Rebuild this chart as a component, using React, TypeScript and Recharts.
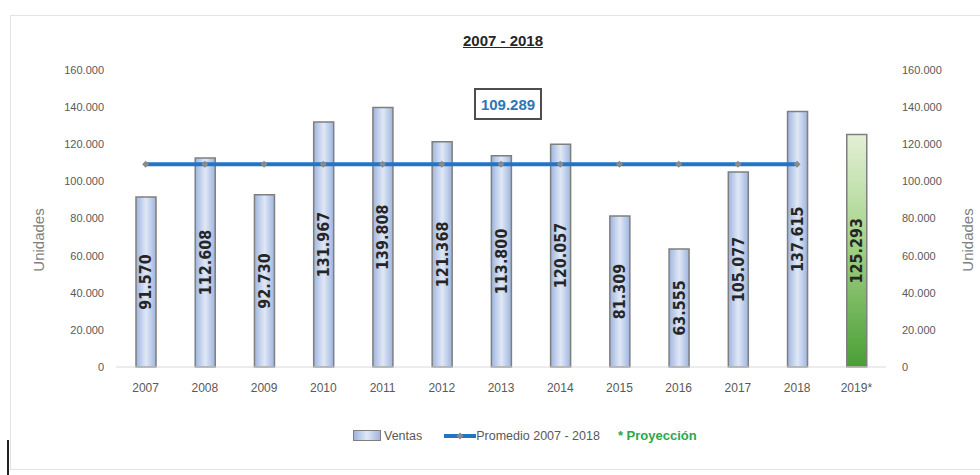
import React from "react";
import {
  ComposedChart,
  Bar,
  Line,
  XAxis,
  YAxis,
  Cell,
  LabelList,
} from "recharts";

const years = ["2007", "2008", "2009", "2010", "2011", "2012", "2013", "2014", "2015", "2016", "2017", "2018", "2019*"];
const ventas = [91570, 112608, 92730, 131967, 139808, 121368, 113800, 120057, 81309, 63555, 105077, 137615, 125293];
const promedio = [109289, 109289, 109289, 109289, 109289, 109289, 109289, 109289, 109289, 109289, 109289, 109289, null];
const yTicks = [0, 20000, 40000, 60000, 80000, 100000, 120000, 140000, 160000];

const data = years.map((y, i) => ({ year: y, ventas: ventas[i], avg: promedio[i] }));

// es-ES style: dot as thousands separator
const fmt = (v: number) => String(v).replace(/\B(?=(\d{3})+(?!\d))/g, ".");

const TICK = { fontFamily: "Liberation Sans", fontSize: 11, fill: "#595959" };

const Diamond = (props: any) => {
  const { cx, cy, index } = props;
  if (cx == null || cy == null) return <g key={index} />;
  return (
    <path
      key={index}
      d={`M${cx - 3.5},${cy} L${cx},${cy - 3.5} L${cx + 3.5},${cy} L${cx},${cy + 3.5} Z`}
      fill="#8a8a8a"
    />
  );
};

const BarValue = (props: any) => {
  const { x, y, width, height, value } = props;
  const cx = x + width / 2;
  const cy = y + height / 2;
  return (
    <text
      x={cx}
      y={cy}
      transform={`rotate(-90, ${cx}, ${cy})`}
      textAnchor="middle"
      dominantBaseline="central"
      fontFamily="DejaVu Sans Condensed, DejaVu Sans"
      fontWeight="bold"
      fontSize={16}
      fill="#262626"
    >
      {fmt(value)}
    </text>
  );
};

export default function App() {
  return (
    <div
      style={{
        position: "absolute",
        left: 0,
        top: 0,
        width: 980,
        height: 475,
        background: "#fff",
        overflow: "hidden",
        fontFamily: "Liberation Sans",
      }}
    >
      {/* outer frame */}
      <div
        style={{
          position: "absolute",
          left: 10,
          top: 15,
          width: 980,
          height: 455,
          border: "1px solid #e3e3e3",
          boxSizing: "border-box",
        }}
      />
      <div style={{ position: "absolute", left: 7, top: 440, width: 2, height: 35, background: "#222" }} />

      <ComposedChart
        width={980}
        height={475}
        data={data}
        margin={{ top: 70, right: 0, bottom: 78, left: 0 }}
        style={{ position: "absolute", left: 0, top: 0 }}
      >
        <defs>
          <linearGradient id="blueBar" x1="0" y1="0" x2="1" y2="0">
            <stop offset="0" stopColor="#9fb5de" />
            <stop offset="0.5" stopColor="#e0e8f6" />
            <stop offset="1" stopColor="#9fb5de" />
          </linearGradient>
          <linearGradient id="greenBar" x1="0" y1="0" x2="0" y2="1">
            <stop offset="0" stopColor="#e3f0d6" />
            <stop offset="0.45" stopColor="#a6d38a" />
            <stop offset="1" stopColor="#4a9e35" />
          </linearGradient>
        </defs>
        <XAxis
          dataKey="year"
          height={30}
          tick={{ ...TICK, fontSize: 12 }}
          tickLine={false}
          axisLine={{ stroke: "#d9d9d9" }}
          tickMargin={10}
          interval={0}
        />
        <YAxis
          yAxisId="left"
          width={116}
          domain={[0, 160000]}
          ticks={yTicks}
          tickFormatter={fmt}
          tick={TICK}
          axisLine={false}
          tickLine={false}
          tickSize={0}
          tickMargin={12}
        />
        <YAxis
          yAxisId="right"
          orientation="right"
          width={94}
          domain={[0, 160000]}
          ticks={yTicks}
          tickFormatter={fmt}
          tick={TICK}
          axisLine={false}
          tickLine={false}
          tickSize={0}
          tickMargin={16}
        />
        <Bar
          yAxisId="left"
          dataKey="ventas"
          barSize={20}
          stroke="#7f7f7f"
          strokeWidth={1.5}
          isAnimationActive={false}
        >
          {data.map((d, i) => (
            <Cell key={i} fill={d.year === "2019*" ? "url(#greenBar)" : "url(#blueBar)"} />
          ))}
          <LabelList dataKey="ventas" content={BarValue} />
        </Bar>
        <Line
          yAxisId="right"
          dataKey="avg"
          stroke="#2474c6"
          strokeWidth={4}
          dot={Diamond}
          activeDot={false}
          isAnimationActive={false}
        />
      </ComposedChart>

      {/* title */}
      <div
        style={{
          position: "absolute",
          left: 403,
          width: 200,
          top: 32,
          textAlign: "center",
          fontWeight: "bold",
          fontSize: 15,
          color: "#262626",
          textDecoration: "underline",
        }}
      >
        2007 - 2018
      </div>

      {/* average box */}
      <div
        style={{
          position: "absolute",
          left: 474,
          top: 88,
          width: 68,
          height: 32,
          border: "2px solid #4d4d4d",
          boxSizing: "border-box",
          display: "flex",
          alignItems: "center",
          justifyContent: "center",
          color: "#2e75b6",
          fontWeight: "bold",
          fontSize: 15,
        }}
      >
        {fmt(109289)}
      </div>

      {/* axis titles */}
      <div
        style={{
          position: "absolute",
          left: 38,
          top: 240,
          transform: "translate(-50%, -50%) rotate(-90deg)",
          fontSize: 15,
          color: "#7f7f7f",
          whiteSpace: "nowrap",
        }}
      >
        Unidades
      </div>
      <div
        style={{
          position: "absolute",
          left: 967,
          top: 240,
          transform: "translate(-50%, -50%) rotate(-90deg)",
          fontSize: 15,
          color: "#7f7f7f",
          whiteSpace: "nowrap",
        }}
      >
        Unidades
      </div>

      {/* legend */}
      <div
        style={{
          position: "absolute",
          left: 353,
          top: 428,
          display: "flex",
          alignItems: "center",
          fontSize: 12.5,
          color: "#595959",
          whiteSpace: "nowrap",
        }}
      >
        <span
          style={{
            display: "inline-block",
            width: 28,
            height: 11,
            border: "1.5px solid #7f7f7f",
            background: "linear-gradient(to right, #9fb5de, #e0e8f6, #9fb5de)",
            boxSizing: "border-box",
          }}
        />
        <span style={{ marginLeft: 3 }}>Ventas</span>
        <svg width={32} height={12} style={{ marginLeft: 22 }}>
          <line x1={0} y1={6} x2={32} y2={6} stroke="#2474c6" strokeWidth={4} />
          <path d="M12.5,6 L16,2.5 L19.5,6 L16,9.5 Z" fill="#8a8a8a" />
        </svg>
        <span>Promedio 2007 - 2018</span>
        <span style={{ marginLeft: 18, color: "#2aa84a", fontWeight: "bold", fontSize: 13 }}>
          * Proyección
        </span>
      </div>
    </div>
  );
}
